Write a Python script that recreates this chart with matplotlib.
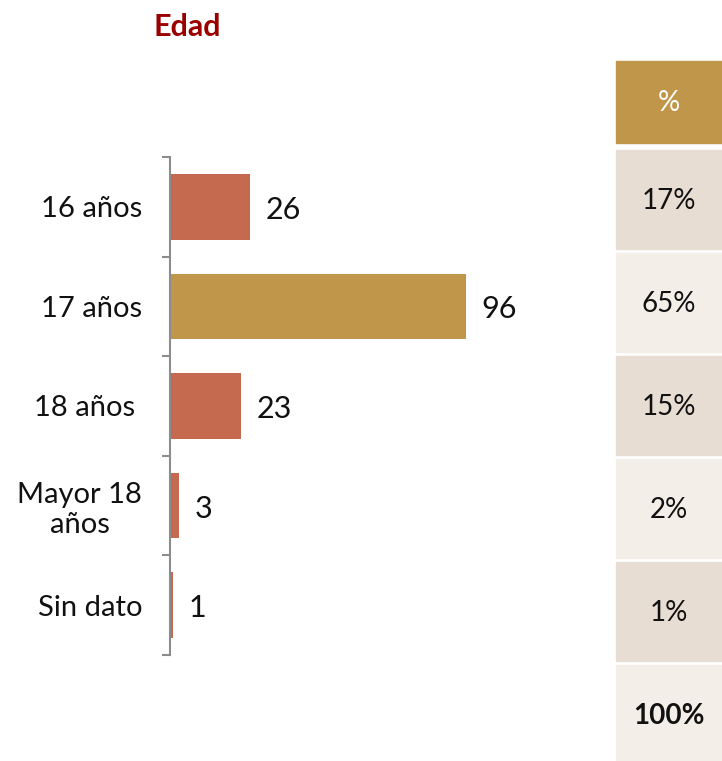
import matplotlib.pyplot as plt
from matplotlib.patches import Rectangle

# Datos
categorias = ['16 años', '17 años', '18 años ', 'Mayor 18\naños', 'Sin dato']
valores = [26, 96, 23, 3, 1]
porcentajes = ['17%', '65%', '15%', '2%', '1%']
total = '100%'

rojo = '#C5694F'
dorado = '#C0974A'
colores = [rojo, dorado, rojo, rojo, rojo]

plt.rcParams['font.family'] = ['Lato', 'DejaVu Sans']

fig = plt.figure(figsize=(7.22, 7.61), dpi=100)
W, H = 722, 761

# Grafico de barras
ax = fig.add_axes([170 / W, 106 / H, 308 / W, 498 / H])
pos = list(range(len(categorias)))
ax.barh(pos, valores, height=0.66, color=colores)
ax.set_xlim(0, 100)
ax.set_ylim(len(categorias) - 0.5, -0.5)

for p, v in zip(pos, valores):
    ax.text(v + 5, p + 0.03, str(v), va='center', ha='left', fontsize=22,
            color='#111111')

ax.set_yticks([i - 0.5 for i in range(len(categorias) + 1)])
ax.set_yticklabels([])
ax.set_yticks(pos, minor=True)
ax.set_yticklabels(categorias, minor=True, fontsize=21, color='#111111',
                   multialignment='center')
ax.tick_params(axis='y', which='major', length=6, width=1.5, color='#8C8C8C', direction='out')
ax.tick_params(axis='y', which='minor', length=0, pad=20)
ax.set_xticks([])
for s in ['top', 'right', 'bottom']:
    ax.spines[s].set_visible(False)
ax.spines['left'].set_color('#8C8C8C')
ax.spines['left'].set_linewidth(1.5)

# Titulo
fig.text(187 / W, 1 - 27 / H, 'Edad', ha='center', va='center', fontsize=22,
         fontweight='bold', color='#9B0000')

# Tabla de porcentajes
tx = fig.add_axes([0, 0, 1, 1])
tx.set_xlim(0, W)
tx.set_ylim(H, 0)
tx.axis('off')

tx.add_patch(Rectangle((616, 61), 106, 82, color=dorado))
tx.text(669, 103, '%', ha='center', va='center', fontsize=20, color='white')

filas = porcentajes + [total]
for i, txt in enumerate(filas):
    y0 = 150 + i * 103
    fondo = '#E8DDD3' if i % 2 == 0 else '#F3EEE8'
    tx.add_patch(Rectangle((616, y0), 106, 99, color=fondo))
    peso = 'bold' if i == len(filas) - 1 else 'normal'
    tx.text(669, y0 + 51, txt, ha='center', va='center', fontsize=20,
            color='#111111', fontweight=peso)

fig.savefig('out.png', dpi=100)
